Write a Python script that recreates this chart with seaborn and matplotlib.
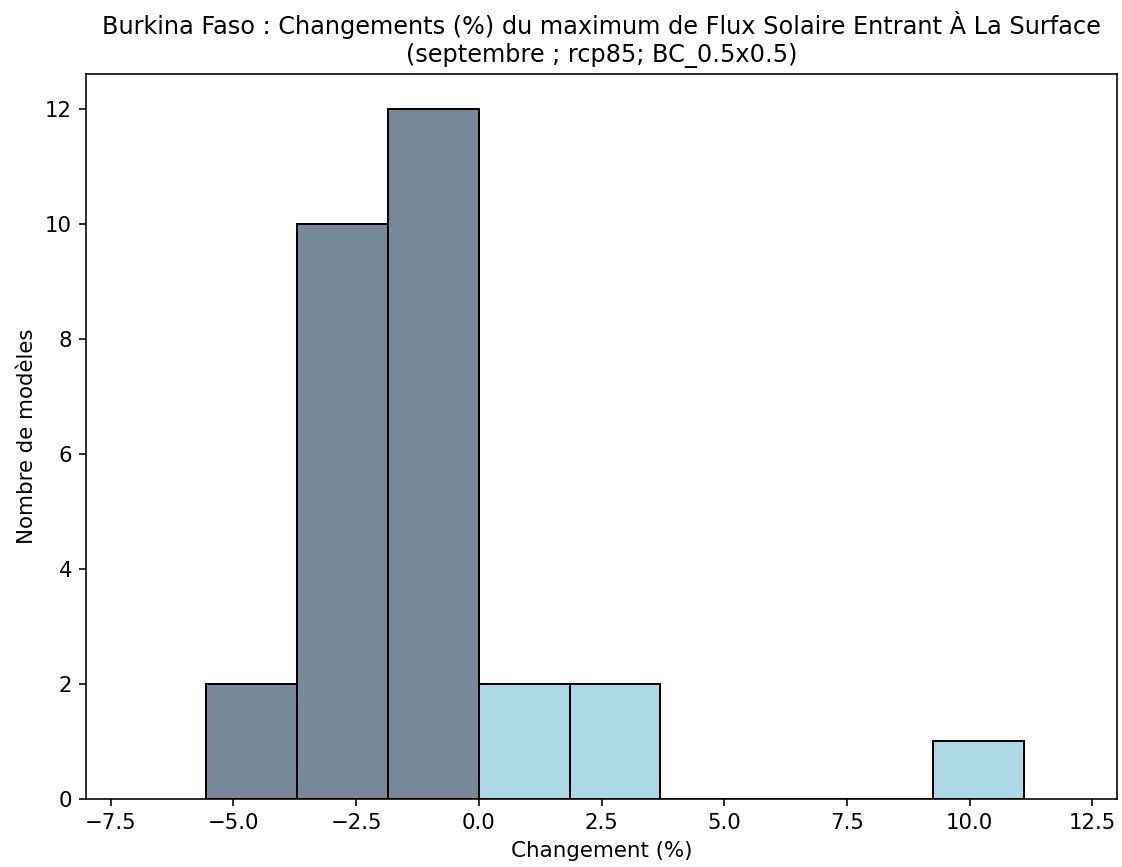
import matplotlib
matplotlib.use("Agg")
import matplotlib.pyplot as plt
import numpy as np
import seaborn as sns

# histogram: 9 bins spanning min..max of the model changes
bin_edges = [-5.55, -3.70, -1.85, 0.0, 1.85, 3.70, 5.55, 7.40, 9.25, 11.10]
bin_counts = [2, 10, 12, 2, 2, 0, 0, 0, 1]

NEG_COLOR = "#778899"
POS_COLOR = "#add8e6"

title = ("Burkina Faso : Changements (%) du maximum de Flux Solaire Entrant À La Surface\n"
         "(septembre ; rcp85; BC_0.5x0.5)")

edges = np.array(bin_edges)
centers = (edges[:-1] + edges[1:]) / 2

fig, ax = plt.subplots(figsize=(1122 / 144, 867 / 144), dpi=144)
sns.histplot(x=centers, weights=bin_counts, bins=bin_edges, ax=ax,
             color=POS_COLOR, alpha=1.0, edgecolor="black", linewidth=1.0)

# negative changes in slate grey, positive in light blue
for patch in ax.patches:
    if patch.get_x() < -1e-9:
        patch.set_facecolor(NEG_COLOR)
    else:
        patch.set_facecolor(POS_COLOR)

ax.set_xlim(-8, 13)
ax.set_xticks([-7.5, -5.0, -2.5, 0.0, 2.5, 5.0, 7.5, 10.0, 12.5])
ax.tick_params(labelsize=10.6)
ax.set_xlabel("Changement (%)", fontsize=10.7)
ax.set_ylabel("Nombre de modèles", fontsize=10.7)
ax.set_title(title, fontsize=12)

fig.subplots_adjust(left=86 / 1122, right=1117 / 1122, top=1 - 74 / 867, bottom=1 - 799 / 867)
fig.savefig("out.png", dpi=144)
